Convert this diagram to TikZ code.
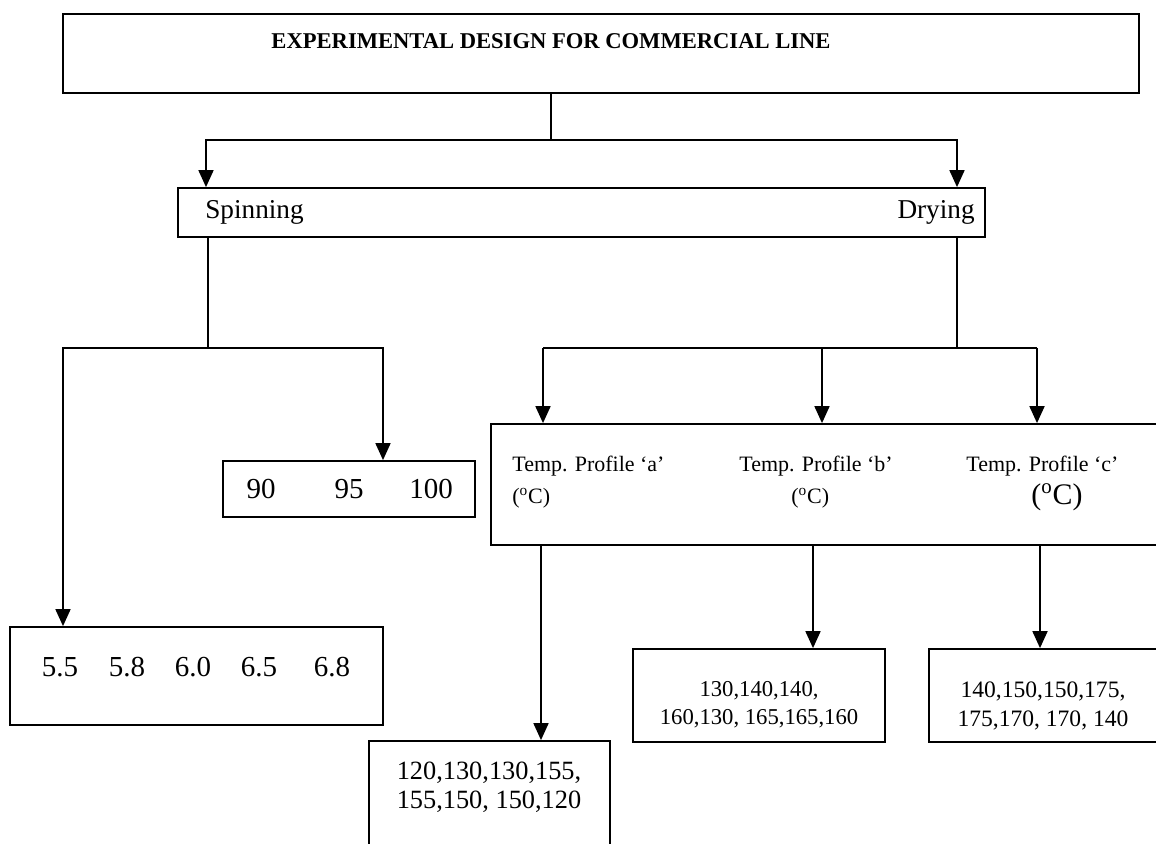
\documentclass[tikz,border=0pt]{standalone}
\usepackage{fontspec}
\setmainfont{Liberation Serif}
\usetikzlibrary{arrows.meta, fit}
\tikzset{box/.style = {draw, line width = 1pt, inner sep = 0pt}}
\tikzset{edge/.style = {-, line width = 1pt}}
\tikzset{arrow/.style = {-{Triangle[length = 0.34cm, width = 0.3cm]}, line width = 1pt}}
\tikzset{headtxt/.style = {inner sep = 0pt, font = \bfseries\fontsize{12.85}{15}\selectfont}}
\tikzset{bigtxt/.style = {inner sep = 0pt, font = \fontsize{16.5}{19}\selectfont}}
\tikzset{smalltxt/.style = {inner sep = 0pt, font = \fontsize{12.5}{15}\selectfont}}
\tikzset{valtxt/.style = {inner sep = 0pt, align = center, font = \fontsize{12.9}{16}\selectfont}}

\begin{document}
\begin{tikzpicture}[x = 0.02cm, y = -0.02cm]
	\useasboundingbox (0, 0) rectangle (1156, 844);
	\clip (0, 0) rectangle (1156, 844);

	% boxes
	\node[box, fit = {(63, 14) (1139, 93)}] (design) {};
	\node[box, fit = {(178, 188) (985, 237)}] (stage) {};
	\node[box, fit = {(223, 461) (475, 517)}] (speed) {};
	\node[box, fit = {(10, 627) (383, 725)}] (ph) {};
	\node[box, fit = {(491, 424) (1170, 545)}] (profile) {};
	\node[box, fit = {(369, 741) (610, 870)}] (vala) {};
	\node[box, fit = {(633, 649) (885, 742)}] (valb) {};
	\node[box, fit = {(929, 649) (1170, 742)}] (valc) {};

	% texts
	\node[headtxt] (designtxt) at (551, 41) {EXPERIMENTAL DESIGN FOR COMMERCIAL LINE};
	\node[bigtxt, anchor = west, font = \fontsize{15.5}{18}\selectfont] (spintxt) at (205, 212) {Spinning};
	\node[bigtxt, anchor = east, font = \fontsize{15.5}{18}\selectfont] (drytxt) at (975, 212) {Drying};
	\foreach \v/\x [count = \i] in {90/261, 95/349, 100/431}
		\node[bigtxt] (speed\i) at (\x, 489) {\v};
	\foreach \v/\x [count = \i] in {5.5/60, 5.8/127, 6.0/193, 6.5/259, 6.8/332}
		\node[bigtxt] (ph\i) at (\x, 667) {\v};
	\node[smalltxt, anchor = west] (proa) at (512, 466) {Temp. Profile ‘a’};
	\node[smalltxt, anchor = west] (prob) at (739, 466) {Temp. Profile ‘b’};
	\node[smalltxt, anchor = west] (proc) at (966, 466) {Temp. Profile ‘c’};
	\node[smalltxt, anchor = west] (unita) at (512, 498) {(\textsuperscript{o}C)};
	\node[smalltxt, anchor = west] (unitb) at (791, 498) {(\textsuperscript{o}C)};
	\node[bigtxt, anchor = west, font = \fontsize{17}{20}\selectfont] (unitc) at (1031, 497) {(\textsuperscript{o}C)};
	\node[valtxt, font = \fontsize{15}{16.4}\selectfont] (vala1) at (489, 787) {120,130,130,155,\\155,150, 150,120};
	\node[valtxt] (valb1) at (759, 705) {130,140,140,\\160,130, 165,165,160};
	\node[valtxt, font = \fontsize{13.4}{16.4}\selectfont] (valc1) at (1043, 706) {140,150,150,175,\\175,170, 170, 140};

	% connectors
	\coordinate (hub) at (551, 140);
	\coordinate (hubl) at (206, 140);
	\coordinate (hubr) at (957, 140);
	\draw[edge] (hub |- design.south) to (hub);
	\draw[arrow] (hub) -- (hubl) -- (hubl |- stage.north);
	\draw[arrow] (hub) -- (hubr) -- (hubr |- stage.north);

	\coordinate (spin) at (208, 348);
	\coordinate (spinl) at (63, 348);
	\coordinate (spinr) at (383, 348);
	\draw[edge] (spin |- stage.south) to (spin);
	\draw[arrow] (spin) -- (spinl) -- (spinl |- ph.north);
	\draw[arrow] (spin) -- (spinr) -- (spinr |- speed.north);

	\coordinate (dry) at (957, 348);
	\coordinate (drya) at (543, 348);
	\coordinate (dryb) at (822, 348);
	\coordinate (dryc) at (1037, 348);
	\draw[edge] (dry |- stage.south) to (dry);
	\draw[edge] (drya) to (dryc);
	\foreach \p in {drya, dryb, dryc}
		\draw[arrow] (\p) to (\p |- profile.north);

	\coordinate (outa) at (541, 600);
	\coordinate (outb) at (813, 600);
	\coordinate (outc) at (1040, 600);
	\draw[arrow] (outa |- profile.south) to (outa |- vala.north);
	\draw[arrow] (outb |- profile.south) to (outb |- valb.north);
	\draw[arrow] (outc |- profile.south) to (outc |- valc.north);
\end{tikzpicture}
\end{document}
